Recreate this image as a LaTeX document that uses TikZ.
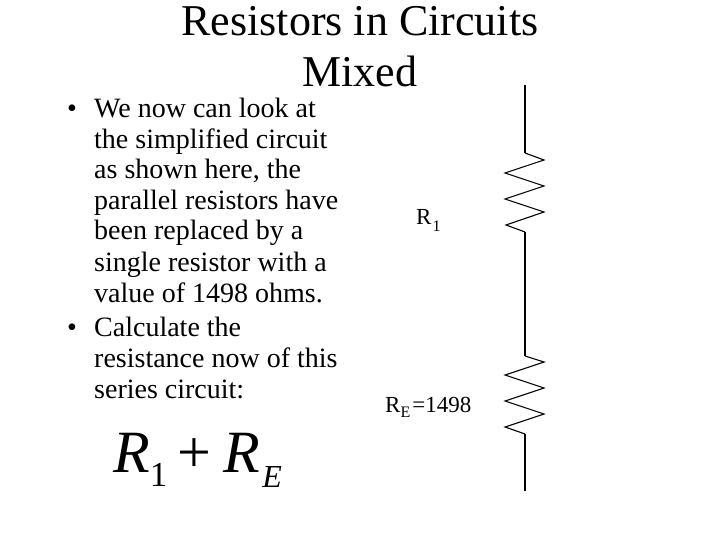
\documentclass[tikz,border=0pt]{standalone}
\usepackage{fontspec}
\setmainfont{Liberation Serif}
\tikzset{
	titletext/.style={anchor=base, inner sep=0pt, font=\fontsize{44}{48}\selectfont},
	bodytext/.style={anchor=base west, inner sep=0pt, font=\fontsize{28}{31}\selectfont},
	labeltext/.style={anchor=base west, inner sep=0pt, font=\fontsize{23}{25}\selectfont},
	wire/.style={line width=1.1pt, black}
}
\begin{document}
\begin{tikzpicture}[x=1pt, y=-1pt]
	\useasboundingbox (0, 0) rectangle (720, 540);
	% Title
	\node[titletext] (titleA) at (360, 36) {Resistors in Circuits};
	\node[titletext] (titleB) at (360, 87) {Mixed};

	% Bullets
	\node[bodytext] (bulletA) at (67, 118) {•};
	\node[bodytext] (lineA) at (94, 118) {We now can look at};
	\node[bodytext] (lineB) at (94, 149) {the simplified circuit};
	\node[bodytext] (lineC) at (94, 179) {as shown here, the};
	\node[bodytext] (lineD) at (94, 210) {parallel resistors have};
	\node[bodytext] (lineE) at (94, 240) {been replaced by a};
	\node[bodytext] (lineF) at (94, 271) {single resistor with a};
	\node[bodytext] (lineG) at (94, 302) {value of 1498 ohms.};
	\node[bodytext] (bulletB) at (67, 336) {•};
	\node[bodytext] (lineH) at (94, 336) {Calculate the};
	\node[bodytext] (lineI) at (94, 367) {resistance now of this};
	\node[bodytext] (lineJ) at (94, 398) {series circuit:};

	% Formula
	\node[anchor=base west, inner sep=0pt, font=\fontsize{60}{60}\selectfont\itshape] (sumtext) at (113, 472)
		{R\raisebox{-14pt}{\fontsize{35}{35}\selectfont\upshape 1}\hspace{10pt}{\upshape +}\hspace{12.5pt}R\hspace{2pt}\raisebox{-15pt}{\fontsize{32}{32}\selectfont E}};

	% Labels
	\node[labeltext] (labelA) at (416, 225) {R\hspace{1pt}\raisebox{-7pt}{\fontsize{16}{16}\selectfont 1}};
	\node[labeltext] (labelB) at (385, 412) {R\raisebox{-5pt}{\fontsize{16}{16}\selectfont E}\hspace{2pt}=1498};

	% Top wire
	\coordinate (top) at (525, 85);
	\coordinate (resAin) at (525, 153);
	\draw[wire] (top) -- (resAin);
	% Top resistor
	\coordinate (resAout) at (525, 232);
	\draw[wire] (resAin) -- (544, 160) -- (505, 173) -- (544, 186) -- (505, 199) -- (544, 212) -- (506, 225) -- (resAout);
	% Middle wire
	\coordinate (resBin) at (525, 356);
	\draw[wire] (resAout) -- (resBin);
	% Bottom resistor
	\coordinate (resBout) at (525, 434);
	\draw[wire] (resBin) -- (544, 362) -- (505, 375) -- (544, 388) -- (505, 401) -- (544, 414) -- (505, 427) -- (resBout);
	% Bottom wire
	\coordinate (bottom) at (525, 491);
	\draw[wire] (resBout) -- (bottom);
\end{tikzpicture}
\end{document}
